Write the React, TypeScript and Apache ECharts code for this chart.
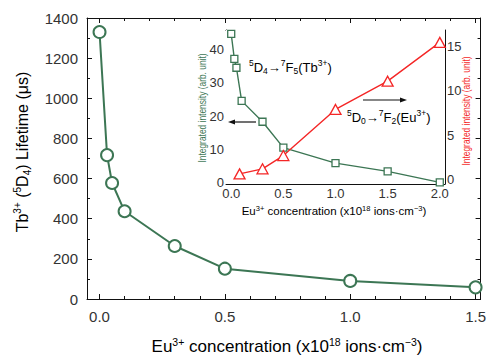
import React, { useEffect, useRef } from "react";
import * as echarts from "echarts";

// ---- data ----
const mainConc = [0, 0.03, 0.05, 0.1, 0.3, 0.5, 1.0, 1.5];
const mainLifetime = [1330, 717, 578, 437, 264, 151, 90, 58];

const tbConc = [0, 0.03, 0.05, 0.1, 0.3, 0.5, 1.0, 1.5, 2.0];
const tbIntensity = [44.8, 37.3, 34.6, 24.6, 18.3, 10.5, 5.8, 3.3, 0];

const euConc = [0.08, 0.3, 0.5, 1.0, 1.5, 2.0];
const euIntensity = [0.6, 1.17, 2.67, 7.9, 11.1, 15.5];

const mainXTicks = [0, 0.5, 1.0, 1.5];
const mainXMinor = [0, 0.1, 0.2, 0.3, 0.4, 0.5, 0.6, 0.7, 0.8, 0.9, 1.0, 1.1, 1.2, 1.3, 1.4, 1.5];
const mainYTicks = [0, 200, 400, 600, 800, 1000, 1200, 1400];
const mainYMinor = [100, 300, 500, 700, 900, 1100, 1300];
const insetXTicks = [0, 0.5, 1.0, 1.5, 2.0];
const insetXMinor = [0, 0.25, 0.5, 0.75, 1.0, 1.25, 1.5, 1.75, 2.0];
const insetLeftTicks = [0, 10, 20, 30, 40];
const insetLeftMinor = [0, 5, 10, 15, 20, 25, 30, 35, 40, 45];
const insetRightTicks = [0, 5, 10, 15];
const insetRightMinor = [0, 2.5, 5, 7.5, 10, 12.5, 15];

const GREEN = "#3c7654";
const RED = "#f42626";
const TXT = "#333";
const FONT = "'Liberation Sans', Arial, Helvetica, sans-serif";

const plain = (v: number) => String(v);
const f1 = (v: number) => v.toFixed(1);

function axisDef(grid: number, pos: string, min: number, max: number, vals: number[], len: number, line: boolean, labels: boolean, fs: number, margin: number, fmt: (v: number) => string) {
  return {
    type: "value",
    gridIndex: grid,
    position: pos,
    min,
    max,
    axisLine: { show: line, onZero: false, lineStyle: { color: "#111", width: 1 } },
    axisTick: { show: true, inside: true, length: len, customValues: vals, lineStyle: { color: "#111", width: 1 } },
    axisLabel: labels
      ? { show: true, customValues: vals, color: TXT, fontSize: fs, fontFamily: FONT, margin, formatter: fmt }
      : { show: false },
    splitLine: { show: false },
  };
}

export default function App() {
  const ref = useRef<HTMLDivElement>(null);
  useEffect(() => {
    if (!ref.current) return;
    const chart = echarts.init(ref.current, undefined, { renderer: "svg" });

    const mkRich = (fs: number, lh: number, sfs: number, color: string) => ({
      n: { fontSize: fs, lineHeight: lh, fontFamily: FONT, color },
      sup: { fontSize: sfs, lineHeight: sfs, verticalAlign: "top", fontFamily: FONT, color },
      sub: { fontSize: sfs, lineHeight: sfs, verticalAlign: "bottom", fontFamily: FONT, color },
    });

    const option: any = {
      animation: false,
      backgroundColor: "#fff",
      grid: [
        { left: 87, top: 18, width: 396, height: 281, show: false },
        { left: 226, top: 30, width: 219, height: 154, show: true, backgroundColor: "#fff", borderWidth: 0, z: 3 },
      ],
      xAxis: [
        axisDef(0, "bottom", -0.05, 1.52, mainXTicks, 5, true, true, 15, 10, f1),
        axisDef(0, "top", -0.05, 1.52, mainXTicks, 5, true, false, 15, 8, f1),
        axisDef(0, "bottom", -0.05, 1.52, mainXMinor, 3, false, false, 15, 8, f1),
        axisDef(0, "top", -0.05, 1.52, mainXMinor, 3, false, false, 15, 8, f1),
        axisDef(1, "bottom", -0.05, 2.05, insetXTicks, 4, true, true, 13, 3, f1),
        axisDef(1, "top", -0.05, 2.05, insetXTicks, 4, true, false, 13, 3, f1),
        axisDef(1, "bottom", -0.05, 2.05, insetXMinor, 2, false, false, 13, 3, f1),
        axisDef(1, "top", -0.05, 2.05, insetXMinor, 2, false, false, 13, 3, f1),
      ],
      yAxis: [
        axisDef(0, "left", 0, 1400, mainYTicks, 5, true, true, 15, 9, plain),
        axisDef(0, "right", 0, 1400, mainYTicks, 5, true, false, 15, 9, plain),
        axisDef(0, "left", 0, 1400, mainYMinor, 3, false, false, 15, 9, plain),
        axisDef(0, "right", 0, 1400, mainYMinor, 3, false, false, 15, 9, plain),
        axisDef(1, "left", -0.5, 46, insetLeftTicks, 4, true, true, 13, 2, plain),
        axisDef(1, "right", -0.55, 16.9, insetRightTicks, 4, true, true, 13, 2, plain),
        axisDef(1, "left", -0.5, 46, insetLeftMinor, 2, false, false, 13, 2, plain),
        axisDef(1, "right", -0.55, 16.9, insetRightMinor, 2, false, false, 13, 2, plain),
      ],
      series: [
        {
          type: "line",
          xAxisIndex: 0,
          yAxisIndex: 0,
          data: mainConc.map((x, i) => [x, mainLifetime[i]]),
          symbol: "circle",
          symbolSize: 12,
          showAllSymbol: true,
          lineStyle: { color: GREEN, width: 2 },
          itemStyle: { color: "#fff", borderColor: GREEN, borderWidth: 2 },
          z: 2,
        },
        {
          type: "line",
          xAxisIndex: 4,
          yAxisIndex: 4,
          data: tbConc.map((x, i) => [x, tbIntensity[i]]),
          symbol: "rect",
          symbolSize: 7,
          showAllSymbol: true,
          lineStyle: { color: GREEN, width: 1.4 },
          itemStyle: { color: "#fff", borderColor: GREEN, borderWidth: 1.3 },
          z: 5,
        },
        {
          type: "line",
          xAxisIndex: 4,
          yAxisIndex: 5,
          data: euConc.map((x, i) => [x, euIntensity[i]]),
          symbol: "triangle",
          symbolSize: [11, 10],
          showAllSymbol: true,
          lineStyle: { color: RED, width: 1.4 },
          itemStyle: { color: "#fff", borderColor: RED, borderWidth: 1.3 },
          z: 5,
        },
      ],
      graphic: [
        {
          type: "text",
          x: 22,
          y: 152,
          rotation: Math.PI / 2,
          z: 100,
          style: {
            text: "{n|Tb}{sup|3+}{n| (}{sup|5}{n|D}{sub|4}{n|) Lifetime (μs)}",
            rich: mkRich(16, 20, 10, TXT),
            align: "center",
            verticalAlign: "middle",
          },
        },
        {
          type: "text",
          x: 287,
          y: 346,
          z: 100,
          style: {
            text: "{n|Eu}{sup|3+}{n| concentration (x10}{sup|18}{n| ions·cm}{sup|−3}{n|)}",
            rich: mkRich(17, 20, 10.5, TXT),
            align: "center",
            verticalAlign: "middle",
          },
        },
        {
          type: "text",
          x: 334,
          y: 211,
          z: 100,
          style: {
            text: "{n|Eu}{sup|3+}{n| concentration (x10}{sup|18}{n| ions·cm}{sup|−3}{n|)}",
            rich: mkRich(11.5, 14, 7.5, TXT),
            align: "center",
            verticalAlign: "middle",
          },
        },
        {
          type: "text",
          x: 202,
          y: 108,
          rotation: Math.PI / 2,
          scaleX: 0.8,
          z: 100,
          style: {
            text: "Integrated intensity (arb. unit)",
            fontSize: 10.5,
            fontFamily: FONT,
            fill: GREEN,
            align: "center",
            verticalAlign: "middle",
          },
        },
        {
          type: "text",
          x: 466,
          y: 111,
          rotation: Math.PI / 2,
          scaleX: 0.8,
          z: 100,
          style: {
            text: "Integrated intensity (arb. unit)",
            fontSize: 10.5,
            fontFamily: FONT,
            fill: RED,
            align: "center",
            verticalAlign: "middle",
          },
        },
        {
          type: "text",
          x: 249,
          y: 67,
          z: 100,
          style: {
            text: "{sup|5}{n|D}{sub|4}{n|→}{sup|7}{n|F}{sub|5}{n|(Tb}{sup|3+}{n|)}",
            rich: mkRich(13, 17, 8.5, GREEN),
            align: "left",
            verticalAlign: "middle",
          },
        },
        {
          type: "text",
          x: 347,
          y: 117,
          z: 100,
          style: {
            text: "{sup|5}{n|D}{sub|0}{n|→}{sup|7}{n|F}{sub|2}{n|(Eu}{sup|3+}{n|)}",
            rich: mkRich(13, 17, 8.5, RED),
            align: "left",
            verticalAlign: "middle",
          },
        },
        { type: "line", z: 100, shape: { x1: 256, y1: 122, x2: 232, y2: 122 }, style: { stroke: "#111", lineWidth: 1.2 } },
        { type: "polygon", z: 100, shape: { points: [[228, 122], [235, 119.5], [235, 124.5]] }, style: { fill: "#111" } },
        { type: "line", z: 100, shape: { x1: 363, y1: 100, x2: 403, y2: 100 }, style: { stroke: "#111", lineWidth: 1.2 } },
        { type: "polygon", z: 100, shape: { points: [[407, 100], [400, 97.5], [400, 102.5]] }, style: { fill: "#111" } },
      ],
    };
    chart.setOption(option);
    return () => chart.dispose();
  }, []);
  return <div ref={ref} style={{ position: "fixed", left: 0, top: 0, width: 489, height: 356 }} />;
}
